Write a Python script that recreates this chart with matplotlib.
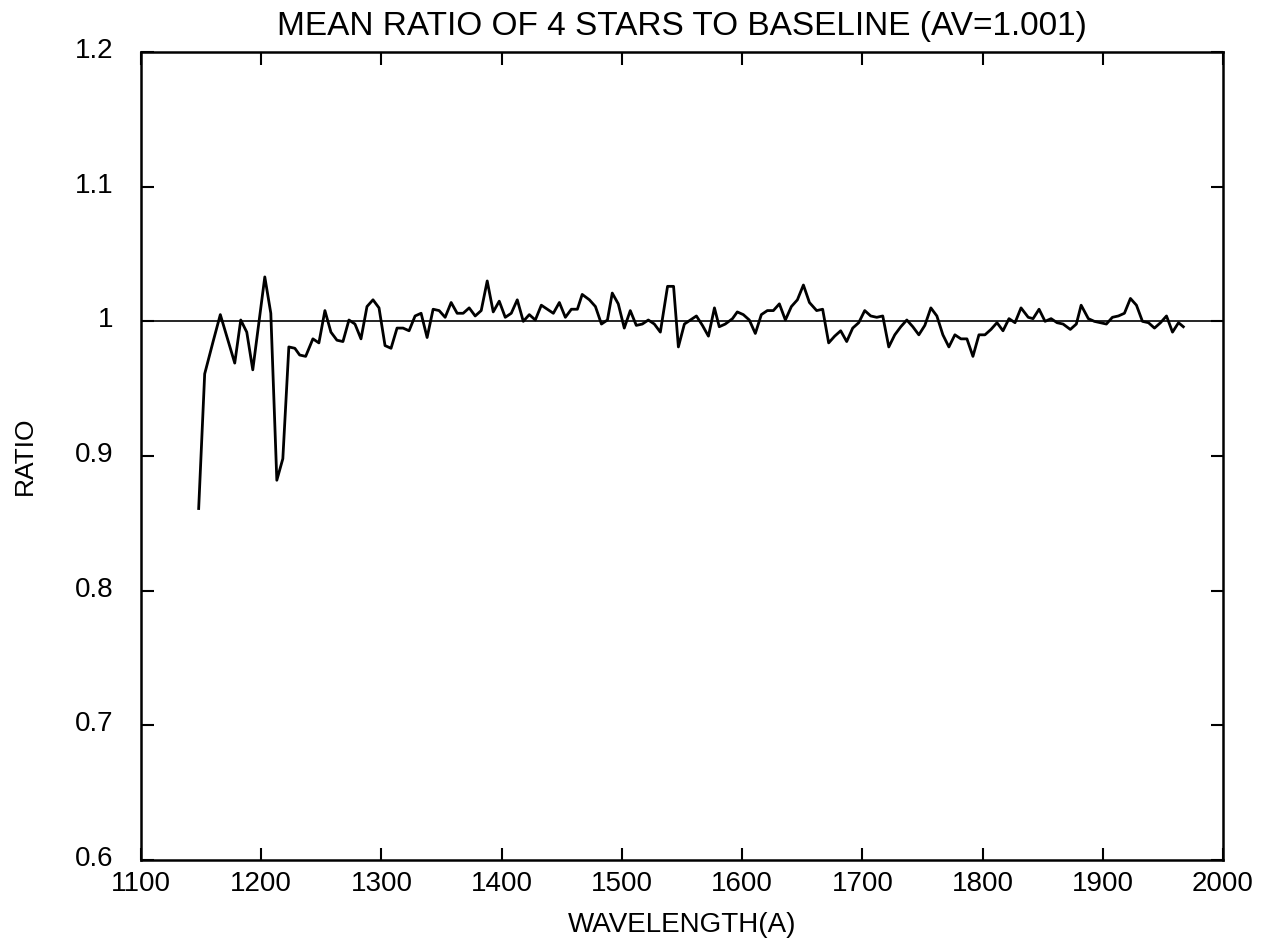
import matplotlib
matplotlib.use("Agg")
import matplotlib.pyplot as plt
import matplotlib.transforms as mtransforms

# Values
wavelength = [
    1148, 1153, 1160, 1166, 1178, 1183, 1188, 1193, 1203, 1208,
    1213, 1218, 1223, 1228, 1232, 1237, 1243, 1248, 1253, 1258,
    1263, 1268, 1273, 1278, 1283, 1288, 1293, 1298, 1303, 1308,
    1313, 1318, 1323, 1328, 1333, 1338, 1343, 1348, 1353, 1358,
    1363, 1368, 1373, 1378, 1383, 1388, 1393, 1398, 1403, 1408,
    1413, 1418, 1423, 1428, 1433, 1438, 1443, 1448, 1453, 1458,
    1463, 1467, 1473, 1478, 1483, 1488, 1492, 1497, 1502, 1507,
    1512, 1517, 1522, 1527, 1532, 1538, 1543, 1547, 1552, 1557,
    1562, 1567, 1572, 1577, 1581, 1586, 1592, 1596, 1601, 1606,
    1611, 1616, 1621, 1626, 1631, 1636, 1641, 1646, 1651, 1656,
    1662, 1667, 1672, 1677, 1682, 1687, 1692, 1697, 1702, 1707,
    1712, 1717, 1722, 1727, 1732, 1737, 1742, 1747, 1752, 1757,
    1762, 1767, 1772, 1777, 1782, 1787, 1792, 1797, 1802, 1807,
    1812, 1817, 1822, 1827, 1832, 1838, 1842, 1847, 1852, 1857,
    1862, 1867, 1873, 1878, 1882, 1888, 1893, 1898, 1903, 1908,
    1913, 1918, 1923, 1928, 1933, 1938, 1943, 1948, 1953, 1958,
    1963, 1967,
]
ratio = [
    0.861, 0.961, 0.985, 1.005, 0.969, 1.001, 0.992, 0.964, 1.033, 1.006,
    0.882, 0.898, 0.981, 0.980, 0.975, 0.974, 0.987, 0.984, 1.008, 0.992,
    0.986, 0.985, 1.001, 0.998, 0.987, 1.011, 1.016, 1.010, 0.982, 0.980,
    0.995, 0.995, 0.993, 1.004, 1.006, 0.988, 1.009, 1.008, 1.003, 1.014,
    1.006, 1.006, 1.010, 1.004, 1.008, 1.030, 1.007, 1.015, 1.003, 1.006,
    1.016, 1.000, 1.005, 1.001, 1.012, 1.009, 1.006, 1.014, 1.003, 1.009,
    1.009, 1.020, 1.016, 1.011, 0.998, 1.001, 1.021, 1.013, 0.995, 1.008,
    0.997, 0.998, 1.001, 0.998, 0.992, 1.026, 1.026, 0.981, 0.998, 1.001,
    1.004, 0.997, 0.989, 1.010, 0.996, 0.998, 1.002, 1.007, 1.005, 1.001,
    0.991, 1.005, 1.008, 1.008, 1.013, 1.001, 1.011, 1.016, 1.027, 1.014,
    1.008, 1.009, 0.984, 0.989, 0.993, 0.985, 0.995, 0.999, 1.008, 1.004,
    1.003, 1.004, 0.981, 0.990, 0.996, 1.001, 0.996, 0.990, 0.997, 1.010,
    1.004, 0.990, 0.981, 0.990, 0.987, 0.987, 0.974, 0.990, 0.990, 0.994,
    0.999, 0.993, 1.002, 0.999, 1.010, 1.003, 1.002, 1.009, 1.000, 1.002,
    0.999, 0.998, 0.994, 0.998, 1.012, 1.002, 1.000, 0.999, 0.998, 1.003,
    1.004, 1.006, 1.017, 1.012, 1.000, 0.999, 0.995, 0.999, 1.004, 0.992,
    0.999, 0.996,
]
baseline = 1.0
x_ticks = [1100, 1200, 1300, 1400, 1500, 1600, 1700, 1800, 1900, 2000]
y_ticks = [0.6, 0.7, 0.8, 0.9, 1.0, 1.1, 1.2]
y_tick_labels = ["0.6", "0.7", "0.8", "0.9", "1", "1.1", "1.2"]

font = ["Liberation Sans", "DejaVu Sans"]

fig = plt.figure(figsize=(12.62, 9.41), dpi=100)
ax = fig.add_axes([0.1117, 0.0861, 0.8574, 0.8586])

ax.plot(wavelength, ratio, color="black", linewidth=2.0)
ax.axhline(baseline, color="black", linewidth=1.2)

ax.set_xlim(1100, 2000)
ax.set_ylim(0.6, 1.2)
ax.set_xticks(x_ticks)
ax.set_yticks(y_ticks)
ax.set_yticklabels(y_tick_labels)

ax.tick_params(direction="in", length=9, width=1.5, top=True, right=True,
               labelsize=20)
ax.tick_params(axis="x", pad=8)
ax.tick_params(axis="y", pad=20)
for lbl in ax.get_xticklabels() + ax.get_yticklabels():
    lbl.set_family(font)
# y labels sit a little above their ticks in the original
shift = mtransforms.ScaledTranslation(0, 4 / 100, fig.dpi_scale_trans)
for lbl in ax.get_yticklabels():
    lbl.set_transform(lbl.get_transform() + shift)

for s in ax.spines.values():
    s.set_linewidth(1.8)

ax.set_xlabel("WAVELENGTH(A)", family=font, fontsize=20, labelpad=11)
ax.set_ylabel("RATIO", family=font, fontsize=19, labelpad=27)
ax.set_title("MEAN RATIO OF 4 STARS TO BASELINE (AV=1.001)", family=font,
             fontsize=24, pad=12)

fig.savefig("out.png", dpi=100)
